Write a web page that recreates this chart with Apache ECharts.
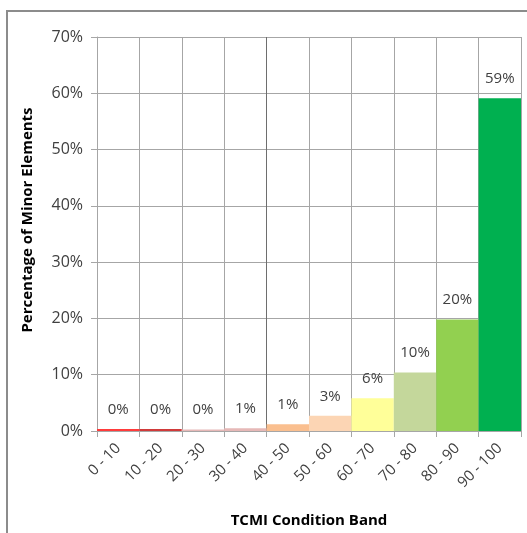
<!DOCTYPE html>
<html>
<head>
<meta charset="utf-8">
<script src="https://cdn.jsdelivr.net/npm/echarts@6/dist/echarts.min.js"></script>
<style>
  html, body { margin: 0; padding: 0; background: #fff; }
  #chart { width: 527px; height: 533px; }
</style>
</head>
<body>
<div id="chart"></div>
<script>
// bands and the share of minor elements in each (percent)
const bands = ['0 - 10', '10 - 20', '20 - 30', '30 - 40', '40 - 50', '50 - 60', '60 - 70', '70 - 80', '80 - 90', '90 - 100'];
const percentages = [0.35, 0.35, 0.25, 0.5, 1.2, 2.7, 5.8, 10.4, 19.8, 59.1];
const barColors = ['#FF3B3B', '#D03A3A', '#E6B8B7', '#E6B8B7', '#FABF8F', '#FCD5B4', '#FFFF99', '#C4D79B', '#92D050', '#00B050'];

const chart = echarts.init(document.getElementById('chart'));
const font = '"Open Sans", sans-serif';

const option = {
  animation: false,
  textStyle: { fontFamily: font },
  graphic: [{
    type: 'rect',
    shape: { x: 7, y: 11, width: 540, height: 540 },
    style: { fill: 'none', stroke: '#8C8C8C', lineWidth: 2 },
    silent: true
  }],
  grid: { left: 97, right: 6, top: 37, bottom: 100 },
  xAxis: {
    type: 'category',
    data: bands,
    name: 'TCMI Condition Band',
    nameLocation: 'middle',
    nameGap: 82,
    nameTextStyle: { fontSize: 15, fontWeight: 'bold', color: '#000', fontFamily: font },
    axisLine: { lineStyle: { color: '#A6A6A6' } },
    axisTick: { show: true, length: 6, lineStyle: { color: '#A6A6A6' } },
    axisLabel: { rotate: 45, fontSize: 15, color: '#404040', margin: 15 },
    splitLine: {
      show: true,
      lineStyle: {
        color: ['#A6A6A6', '#A6A6A6', '#A6A6A6', '#A6A6A6', '#6E6E6E', '#A6A6A6', '#A6A6A6', '#A6A6A6', '#A6A6A6', '#A6A6A6', '#A6A6A6'],
        width: 1
      }
    }
  },
  yAxis: {
    type: 'value',
    min: 0,
    max: 70,
    interval: 10,
    name: 'Percentage of Minor Elements',
    nameLocation: 'middle',
    nameGap: 62,
    nameTextStyle: { fontSize: 15, fontWeight: 'bold', color: '#000', fontFamily: font, padding: [0, 0, 0, 28] },
    axisLine: { show: true, lineStyle: { color: '#A6A6A6' } },
    axisTick: { show: true, length: 6, lineStyle: { color: '#A6A6A6' } },
    axisLabel: { formatter: '{value}%', fontSize: 16, color: '#404040', margin: 14 },
    splitLine: { lineStyle: { color: '#A6A6A6' } }
  },
  series: [{
    type: 'bar',
    barWidth: '100%',
    data: percentages.map((v, i) => ({ value: v, itemStyle: { color: barColors[i] } })),
    label: {
      show: true,
      position: 'top',
      distance: 12,
      fontSize: 15,
      color: '#404040',
      formatter: (p) => Math.round(p.value) + '%'
    }
  }]
};

chart.setOption(option);
</script>
</body>
</html>
